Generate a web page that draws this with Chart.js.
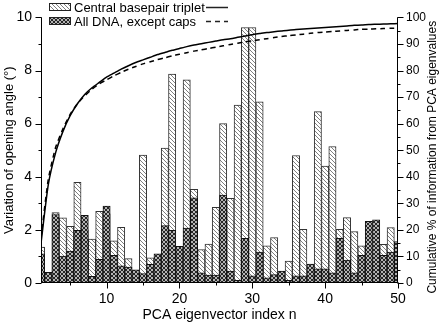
<!DOCTYPE html>
<html>
<head>
<meta charset="utf-8">
<script src="https://cdn.jsdelivr.net/npm/chart.js@4.4.1/dist/chart.umd.min.js"></script>
<style>
  html, body { margin: 0; padding: 0; background: #fff; }
</style>
</head>
<body>
<canvas id="pcaChart" width="442" height="328"></canvas>
<script>
// eigenvector index n = 1..50
const eigenIndex = [1,2,3,4,5,6,7,8,9,10,11,12,13,14,15,16,17,18,19,20,21,22,23,24,25,
                    26,27,28,29,30,31,32,33,34,35,36,37,38,39,40,41,42,43,44,45,46,47,48,49,50];

// variation of opening angle (deg)
const centralAngle = [1.35,0.3,2.65,2.45,2.13,3.79,2.0,1.65,2.7,2.6,1.59,2.1,0.92,0.4,4.82,0.95,0.9,5.08,7.87,1.3,
                      7.65,3.53,1.26,1.47,2.85,6.0,3.19,6.7,9.62,9.62,6.82,1.4,1.71,0.35,0.83,4.8,2.02,0.6,6.45,4.4,
                      5.14,2.02,2.46,1.94,1.4,0.2,0.8,1.46,2.09,1.2];
const allDnaAngle  = [1.1,0.4,2.58,1.01,1.2,1.98,2.55,0.25,0.89,2.9,1.04,0.65,0.6,0.5,0.35,0.7,1.1,2.16,1.98,1.38,
                      2.07,3.21,0.38,0.3,0.3,3.31,0.45,0.1,1.68,0.27,1.16,0.19,0.32,0.45,0.1,0.27,0.27,0.71,0.53,0.53,
                      0.38,1.68,0.86,0.38,1.04,2.32,2.38,1.04,1.16,1.56];

// cumulative % of information from PCA eigenvalues
const centralCumulative = [15,37,49,57,63,67.5,71,73.5,75.5,77.5,79,80.5,81.8,83,84,85,86,86.8,87.6,88.3,
                           89,89.6,90.1,90.6,91.1,91.6,92,92.5,93,93.5,93.9,94.3,94.6,94.9,95.2,95.4,95.6,95.8,96,96.2,
                           96.4,96.6,96.8,97,97.1,97.3,97.4,97.5,97.6,97.7];
const allDnaCumulative  = [17,39,51,58,63.5,67.5,70.5,73,75,76.5,78,79.3,80.5,81.5,82.5,83.3,84.1,84.8,85.5,86.1,
                           86.7,87.3,87.8,88.3,88.8,89.3,89.8,90.3,90.8,91.2,91.6,92,92.4,92.8,93.1,93.4,93.7,94,94.3,94.5,
                           94.7,94.9,95.1,95.3,95.5,95.6,95.7,95.8,95.9,96];

const xTicks = [10, 20, 30, 40, 50];
const leftTicks = [0, 2, 4, 6, 8, 10];
const rightTicks = [0, 10, 20, 30, 40, 50, 60, 70, 80, 90, 100];

const FONT = "'Liberation Sans', Arial, sans-serif";
Chart.defaults.font.family = FONT;
Chart.defaults.color = '#000';

const canvas = document.getElementById('pcaChart');
const ctx = canvas.getContext('2d');

// light diagonal hatch
function makeHatch() {
    const c = document.createElement('canvas');
    c.width = c.height = 4;
    const g = c.getContext('2d');
    g.fillStyle = '#fff';
    g.fillRect(0, 0, 4, 4);
    g.strokeStyle = '#707070';
    g.lineWidth = 0.9;
    g.beginPath();
    g.moveTo(-1, -1); g.lineTo(5, 5);
    g.moveTo(-1, 3); g.lineTo(1, 5);
    g.moveTo(3, -1); g.lineTo(5, 1);
    g.stroke();
    return ctx.createPattern(c, 'repeat');
}

// dark cross hatch
function makeCross() {
    const c = document.createElement('canvas');
    c.width = c.height = 4;
    const g = c.getContext('2d');
    g.fillStyle = '#b4b4b4';
    g.fillRect(0, 0, 4, 4);
    g.strokeStyle = '#262626';
    g.lineWidth = 1;
    g.beginPath();
    g.moveTo(-1, -1); g.lineTo(5, 5);
    g.moveTo(-1, 5); g.lineTo(5, -1);
    g.stroke();
    return ctx.createPattern(c, 'repeat');
}

const hatchFill = makeHatch();
const crossFill = makeCross();

const toPoints = arr => arr.map((v, i) => ({ x: eigenIndex[i], y: v }));

// axis lines plus major/minor tick marks
const axisTicks = {
    id: 'axisTicks',
    afterDatasetsDraw(chart) {
        const { ctx, chartArea: a, scales } = chart;
        const L = Math.round(a.left) + 0.5, R = Math.round(a.right) - 0.5, B = Math.round(a.bottom) - 0.5;
        ctx.save();
        ctx.strokeStyle = '#000';
        ctx.lineWidth = 1;
        ctx.beginPath();
        ctx.moveTo(L, a.top); ctx.lineTo(L, B); ctx.lineTo(R, B); ctx.lineTo(R, a.top);
        for (let v = 0; v <= 10; v++) {
            const y = Math.round(scales.y.getPixelForValue(v)) + 0.5;
            const len = leftTicks.includes(v) ? 6 : 3;
            ctx.moveTo(L, y); ctx.lineTo(L - len, y);
        }
        for (let v = 0; v <= 100; v += 5) {
            const y = Math.round(scales.y2.getPixelForValue(v)) + 0.5;
            const len = rightTicks.includes(v) ? 6 : 3;
            ctx.moveTo(R, y); ctx.lineTo(R + len, y);
        }
        for (let v = 5; v <= 50; v += 5) {
            const x = Math.round(scales.x.getPixelForValue(v)) + 0.5;
            const len = xTicks.includes(v) ? 6 : 3;
            ctx.moveTo(x, B); ctx.lineTo(x, B + len);
        }
        ctx.stroke();
        ctx.restore();
    }
};

// legend rows (bar patch + label + line sample) and the right-hand axis title read bottom-up
const comboLegend = {
    id: 'comboLegend',
    afterDraw(chart) {
        const { ctx, chartArea: a } = chart;
        const rows = [
            { fill: hatchFill, text: 'Central basepair triplet', dash: [], y: 7 },
            { fill: crossFill, text: 'All DNA, except caps', dash: [5, 4], y: 21 }
        ];
        ctx.save();
        ctx.font = '13px ' + FONT;
        ctx.textBaseline = 'middle';
        rows.forEach(r => {
            ctx.fillStyle = r.fill;
            ctx.fillRect(49, r.y - 3.5, 22, 7);
            ctx.strokeStyle = '#222';
            ctx.lineWidth = 1;
            ctx.strokeRect(49.5, r.y - 3.5, 21, 7);
            ctx.fillStyle = '#000';
            ctx.fillText(r.text, 74, r.y + 1);
            ctx.setLineDash(r.dash);
            ctx.lineWidth = 1.5;
            ctx.beginPath();
            ctx.moveTo(206, r.y + 0.5);
            ctx.lineTo(228, r.y + 0.5);
            ctx.stroke();
            ctx.setLineDash([]);
        });
        ctx.font = '12px ' + FONT;
        ctx.textAlign = 'center';
        ctx.translate(433, (a.top + a.bottom) / 2 + 7);
        ctx.rotate(-Math.PI / 2);
        ctx.fillText('Cumulative % of information from PCA eigenvalues', 0, 0);
        ctx.restore();
    }
};

const tickFont = { size: 14 };

new Chart(canvas, {
    type: 'bar',
    data: {
        datasets: [
            {
                type: 'line', label: 'Central basepair triplet', data: toPoints(centralCumulative),
                yAxisID: 'y2', borderColor: '#000', borderWidth: 1.5, pointRadius: 0, tension: 0.2, order: 0
            },
            {
                type: 'line', label: 'All DNA, except caps', data: toPoints(allDnaCumulative),
                yAxisID: 'y2', borderColor: '#000', borderWidth: 1.5, borderDash: [5, 4], pointRadius: 0, tension: 0.2, order: 0
            },
            {
                label: 'All DNA, except caps', data: toPoints(allDnaAngle), yAxisID: 'y',
                backgroundColor: crossFill, borderColor: '#111', borderWidth: 1,
                grouped: false, barPercentage: 1, categoryPercentage: 1, order: 1
            },
            {
                label: 'Central basepair triplet', data: toPoints(centralAngle), yAxisID: 'y',
                backgroundColor: hatchFill, borderColor: '#333', borderWidth: 1,
                grouped: false, barPercentage: 1, categoryPercentage: 1, order: 2
            }
        ]
    },
    options: {
        responsive: false,
        animation: false,
        layout: { padding: { top: 0, left: 0, right: 0, bottom: 0 } },
        plugins: { legend: { display: false }, tooltip: { enabled: false } },
        scales: {
            x: {
                type: 'linear', min: 1, max: 50, offset: false,
                grid: { display: false, drawTicks: false }, border: { display: false },
                afterBuildTicks: s => { s.ticks = xTicks.map(v => ({ value: v })); },
                ticks: { font: tickFont, padding: 8, maxRotation: 0, autoSkip: false },
                title: { display: true, text: 'PCA eigenvector index n', font: { size: 14 }, padding: { top: 0, bottom: 4 } },
                afterFit: s => { s.height = 45; }
            },
            y: {
                position: 'left', min: 0, max: 10,
                grid: { display: false, drawTicks: false }, border: { display: false },
                afterBuildTicks: s => { s.ticks = leftTicks.map(v => ({ value: v })); },
                ticks: { font: tickFont, padding: 9 },
                title: { display: true, text: 'Variation of opening angle (°)', font: { size: 13 }, padding: { top: 2, bottom: 0 } },
                afterFit: s => { s.width = 41; }
            },
            y2: {
                position: 'right', min: 0, max: 100,
                grid: { display: false, drawTicks: false }, border: { display: false },
                afterBuildTicks: s => { s.ticks = rightTicks.map(v => ({ value: v })); },
                ticks: { font: { size: 12 }, padding: 8 },
                afterFit: s => { s.width = 44; }
            }
        }
    },
    plugins: [axisTicks, comboLegend]
});
</script>
</body>
</html>
